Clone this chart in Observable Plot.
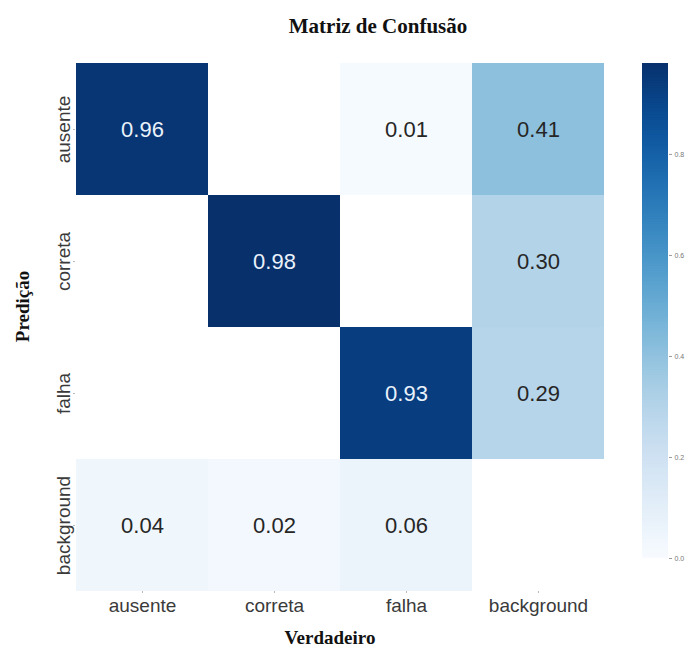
<!DOCTYPE html>
<html>
<head>
<meta charset="utf-8">
<script src="https://cdn.jsdelivr.net/npm/d3@7"></script>
<script src="https://cdn.jsdelivr.net/npm/@observablehq/plot@0.6"></script>
<style>
  body { margin: 0; background: #fff; }
  #wrap { position: relative; width: 691px; height: 652px; overflow: hidden; }
  #wrap svg { position: absolute; top: 0; }
</style>
</head>
<body>
<div id="wrap"></div>
<script>
const trueLabels = ["ausente", "correta", "falha", "background"];
const predLabels = ["ausente", "correta", "falha", "background"];
// rows = predição, columns = verdadeiro (null = empty cell)
const rowAusente    = [0.96, null, 0.01, 0.41];
const rowCorreta    = [null, 0.98, null, 0.30];
const rowFalha      = [null, null, 0.93, 0.29];
const rowBackground = [0.04, 0.02, 0.06, null];
const colorbarTicks = [0, 0.2, 0.4, 0.6, 0.8];
const colorMax = 0.98;

const rows = [rowAusente, rowCorreta, rowFalha, rowBackground];
const data = [];
rows.forEach((r, i) => r.forEach((v, j) => {
  if (v != null) data.push({pred: predLabels[i], truth: trueLabels[j], value: v});
}));

const color = {type: "linear", scheme: "blues", domain: [0, colorMax]};

const main = Plot.plot({
  width: 630, height: 652,
  marginLeft: 75, marginRight: 26, marginTop: 63, marginBottom: 61,
  style: {background: "transparent"},
  x: {domain: trueLabels, padding: 0, label: null},
  y: {domain: predLabels, padding: 0, label: null},
  color,
  marks: [
    Plot.cell(data, {x: "truth", y: "pred", fill: "value", inset: 0}),
    Plot.text(data, {
      x: "truth", y: "pred",
      text: d => d.value.toFixed(2),
      fill: d => d.value > 0.6 ? "#eaf2fb" : "#262626",
      fontSize: 22, fontFamily: "Liberation Sans, Arial, sans-serif"
    }),
    Plot.axisX({tickSize: 2, tickPadding: 5, fontSize: 19, fontFamily: "Liberation Sans, Arial, sans-serif",
      stroke: "#bbb", color: "#3a3a3a", label: null}),
    Plot.axisY({tickSize: 2, tickPadding: 4, tickRotate: -90, fontSize: 19,
      fontFamily: "Liberation Sans, Arial, sans-serif", stroke: "#bbb", color: "#3a3a3a", label: null}),
    Plot.text(["Matriz de Confusão"], {frameAnchor: "top", lineAnchor: "middle", dx: 38, dy: -37,
      fontSize: 21, fontWeight: "bold", fontFamily: "Liberation Serif, Times New Roman, serif", fill: "#111"}),
    Plot.text(["Verdadeiro"], {frameAnchor: "bottom", lineAnchor: "middle", dx: -10, dy: 46,
      fontSize: 19, fontWeight: "bold", fontFamily: "Liberation Serif, Times New Roman, serif", fill: "#111"}),
    Plot.text(["Predição"], {frameAnchor: "left", textAnchor: "middle", lineAnchor: "middle", dx: -53, dy: -21, rotate: -90,
      fontSize: 19, fontWeight: "bold", fontFamily: "Liberation Serif, Times New Roman, serif", fill: "#111"})
  ]
});
main.style.left = "0px";

const steps = d3.range(0, colorMax, colorMax / 200);
const bar = Plot.plot({
  width: 61, height: 652,
  marginLeft: 12, marginRight: 23, marginTop: 63, marginBottom: 94,
  style: {background: "transparent"},
  x: {domain: [0, 1], axis: null},
  y: {domain: [0, colorMax], label: null},
  color,
  marks: [
    Plot.rect(steps, {x1: 0, x2: 1, y1: d => d, y2: d => Math.min(colorMax, d + colorMax / 200 + 0.002), fill: d => d}),
    Plot.axisY({anchor: "right", ticks: colorbarTicks, tickFormat: d3.format(".1f"), tickSize: 3,
      tickPadding: 3, fontSize: 7, fontFamily: "Liberation Sans, Arial, sans-serif", stroke: "#999", color: "#777", label: null})
  ]
});
bar.style.left = "630px";

const wrap = document.getElementById("wrap");
wrap.append(main, bar);
</script>
</body>
</html>
